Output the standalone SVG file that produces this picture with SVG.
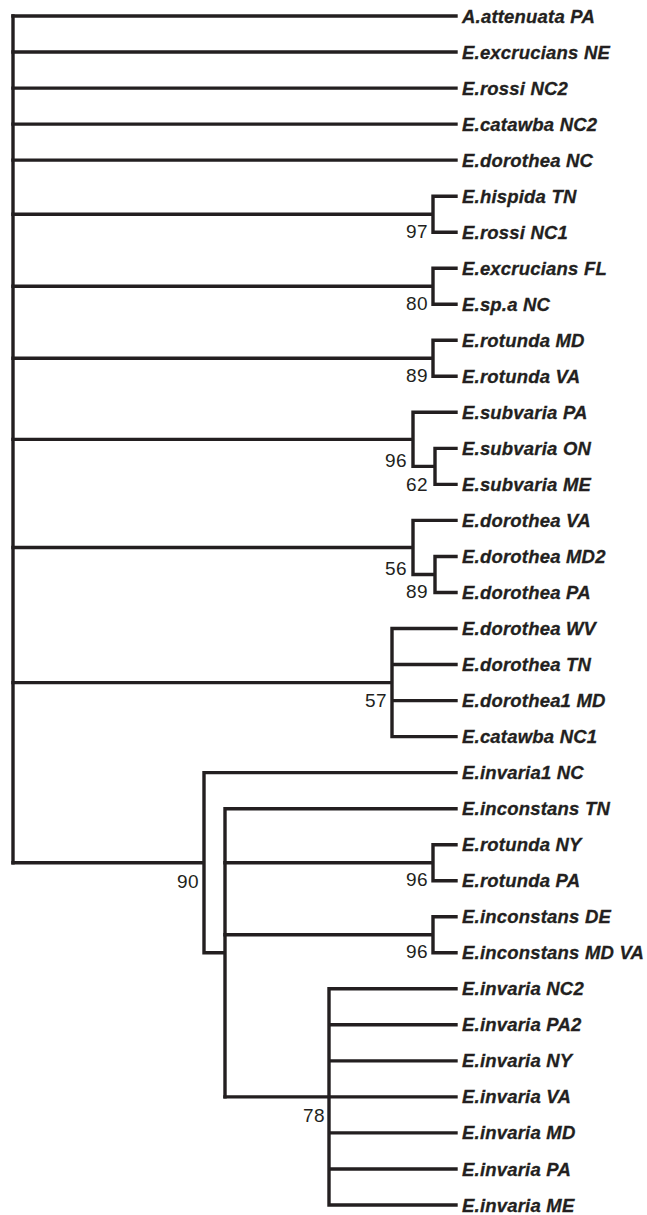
<svg xmlns="http://www.w3.org/2000/svg" width="647" height="1215" viewBox="0 0 647 1215">
<style>
.e{stroke:#231f20;stroke-width:3.4;fill:none;stroke-linecap:square}
.t{font-family:"Liberation Sans",Arial,sans-serif;font-weight:bold;font-style:italic;font-size:18.5px;letter-spacing:0.2px;fill:#231f20;stroke:#231f20;stroke-width:0.3}
.b{font-family:"Liberation Sans",Arial,sans-serif;font-size:19px;letter-spacing:0.4px;fill:#231f20;text-anchor:end}
</style>
<rect width="647" height="1215" fill="#fff"/>
<g id="connectors" class="e">
<path d="M13,16V862.7"/>
<path d="M13,16H456M13,52H456M13,88.1H456M13,124.1H456M13,160.1H456"/>
<path d="M13,214.2H433M433,196.2V232.2M433,196.2H456M433,232.2H456"/>
<path d="M13,286.2H433M433,268.2V304.2M433,268.2H456M433,304.2H456"/>
<path d="M13,358.3H433M433,340.3V376.3M433,340.3H456M433,376.3H456"/>
<path d="M13,439.4H413M413,412.3V466.4M413,412.3H456M413,466.4H435M435,448.4V484.4M435,448.4H456M435,484.4H456"/>
<path d="M13,547.5H413M413,520.4V574.5M413,520.4H456M413,574.5H435M435,556.5V592.5M435,556.5H456M435,592.5H456"/>
<path d="M13,682.6H392M392,628.5V736.6M392,628.5H456M392,664.5H456M392,700.6H456M392,736.6H456"/>
<path d="M13,862.7H204M204,772.6V952.8M204,772.6H456M204,952.8H225M225,808.7V1096.9M225,808.7H456"/>
<path d="M225,862.7H433M433,844.7V880.7M433,844.7H456M433,880.7H456"/>
<path d="M225,934.8H433M433,916.8V952.8M433,916.8H456M433,952.8H456"/>
<path d="M225,1096.9H456M329,988.8V1205M329,988.8H456M329,1024.8H456M329,1060.9H456M329,1132.9H456M329,1169H456M329,1205H456"/>
</g>
<g id="leaves" class="t">
<text id="n1" x="462" y="22.5">A.attenuata PA</text>
<text id="n2" x="462" y="58.5">E.excrucians NE</text>
<text id="n3" x="462" y="94.6">E.rossi NC2</text>
<text id="n4" x="462" y="130.6">E.catawba NC2</text>
<text id="n5" x="462" y="166.6">E.dorothea NC</text>
<text id="n6" x="462" y="202.7">E.hispida TN</text>
<text id="n7" x="462" y="238.7">E.rossi NC1</text>
<text id="n8" x="462" y="274.7">E.excrucians FL</text>
<text id="n9" x="462" y="310.7">E.sp.a NC</text>
<text id="n10" x="462" y="346.8">E.rotunda MD</text>
<text id="n11" x="462" y="382.8">E.rotunda VA</text>
<text id="n12" x="462" y="418.8">E.subvaria PA</text>
<text id="n13" x="462" y="454.9">E.subvaria ON</text>
<text id="n14" x="462" y="490.9">E.subvaria ME</text>
<text id="n15" x="462" y="526.9">E.dorothea VA</text>
<text id="n16" x="462" y="563">E.dorothea MD2</text>
<text id="n17" x="462" y="599">E.dorothea PA</text>
<text id="n18" x="462" y="635">E.dorothea WV</text>
<text id="n19" x="462" y="671">E.dorothea TN</text>
<text id="n20" x="462" y="707.1">E.dorothea1 MD</text>
<text id="n21" x="462" y="743.1">E.catawba NC1</text>
<text id="n22" x="462" y="779.1">E.invaria1 NC</text>
<text id="n23" x="462" y="815.2">E.inconstans TN</text>
<text id="n24" x="462" y="851.2">E.rotunda NY</text>
<text id="n25" x="462" y="887.2">E.rotunda PA</text>
<text id="n26" x="462" y="923.3">E.inconstans DE</text>
<text id="n27" x="462" y="959.3">E.inconstans MD VA</text>
<text id="n28" x="462" y="995.3">E.invaria NC2</text>
<text id="n29" x="462" y="1031.3">E.invaria PA2</text>
<text id="n30" x="462" y="1067.4">E.invaria NY</text>
<text id="n31" x="462" y="1103.4">E.invaria VA</text>
<text id="n32" x="462" y="1139.4">E.invaria MD</text>
<text id="n33" x="462" y="1175.5">E.invaria PA</text>
<text id="n34" x="462" y="1211.5">E.invaria ME</text>
</g>
<g id="support" class="b">
<text x="428" y="238">97</text>
<text x="428" y="310">80</text>
<text x="428" y="382">89</text>
<text x="407" y="467">96</text>
<text x="428" y="491">62</text>
<text x="407" y="575">56</text>
<text x="428" y="598">89</text>
<text x="387" y="707">57</text>
<text x="199" y="888">90</text>
<text x="428" y="886">96</text>
<text x="428" y="958">96</text>
<text x="325" y="1122">78</text>
</g>
</svg>
